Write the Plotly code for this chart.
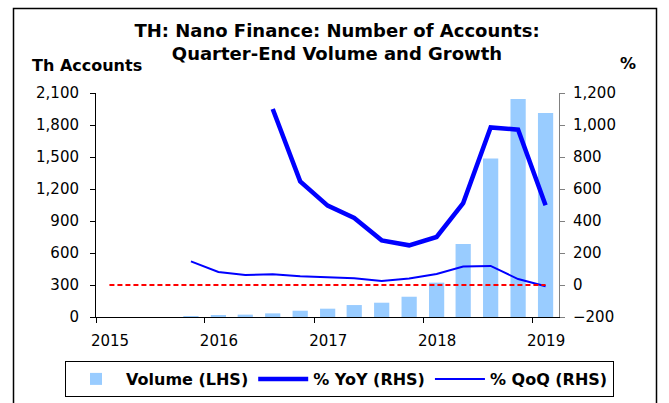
import plotly.graph_objects as go

dates = ["2015-11-15", "2016-02-15", "2016-05-15", "2016-08-15", "2016-11-15",
         "2017-02-15", "2017-05-15", "2017-08-15", "2017-11-15", "2018-02-15",
         "2018-05-15", "2018-08-15", "2018-11-15", "2019-02-15"]
volume = [3, 12, 22, 34, 59, 78, 112, 134, 190, 322, 684, 1486, 2044, 1912]
yoy = [None, None, None, 1100, 648, 496, 419, 279, 248, 300, 512, 985, 971, 498]
qoq = [148, 81, 62, 67, 54, 46, 42, 25, 40, 69, 115, 119, 37, -8]
zero_dates = ["2015-02-15", "2019-02-15"]
zero_vals = [0, 0]
year_ticks = ["2015-01-01", "2016-01-01", "2017-01-01", "2018-01-01", "2019-01-01"]
year_labels = ["2015", "2016", "2017", "2018", "2019"]

FONT = "DejaVu Sans, Liberation Sans, Arial, sans-serif"

# plot area in pixels
L, R, T, B = 96, 559, 93, 317
W, H = 669, 403


def px(xp):
    return (xp - L) / (R - L)


def py(yp):
    return (B - yp) / (B - T)


fig = go.Figure()
fig.add_trace(go.Bar(x=dates, y=volume, name="Volume (LHS)",
                     marker=dict(color="#99CCFF", line=dict(width=0)),
                     width=51 * 86400000, yaxis="y"))
fig.add_trace(go.Scatter(x=dates, y=yoy, name="% YoY (RHS)", mode="lines",
                         line=dict(color="#0000FF", width=4.5), yaxis="y2"))
fig.add_trace(go.Scatter(x=dates, y=qoq, name="% QoQ (RHS)", mode="lines",
                         line=dict(color="#0000FF", width=2), yaxis="y2"))
fig.add_trace(go.Scatter(x=zero_dates, y=zero_vals, mode="lines", showlegend=False,
                         line=dict(color="#FF0000", width=1.8, dash="5px,3px"), yaxis="y2"))

fig.update_layout(
    width=W, height=H,
    margin=dict(l=L, r=W - R, t=T, b=H - B, autoexpand=False),
    paper_bgcolor="white", plot_bgcolor="white",
    font=dict(family=FONT, size=15, color="black"),
    showlegend=True,
    title=dict(text="<b>TH: Nano Finance: Number of Accounts:<br>Quarter-End Volume and Growth</b>",
               x=337 / W, xanchor="center", xref="container",
               y=1 - 36.5 / H, yanchor="top", yref="container",
               font=dict(size=18, family=FONT, color="black")),
    xaxis=dict(type="date", range=["2015-01-01", "2019-04-01"],
               tickvals=year_ticks, ticktext=year_labels,
               ticks="outside", ticklen=5, tickcolor="black",
               ticklabelshift=14, ticklabelstandoff=5,
               showline=True, linecolor="black", linewidth=1,
               showgrid=False, zeroline=False,
               tickfont=dict(size=15, family=FONT)),
    yaxis=dict(range=[0, 2100], dtick=300, tickformat=",",
               ticks="outside", ticklen=5, tickcolor="black",
               ticklabelstandoff=8,
               showline=True, linecolor="black", linewidth=1,
               showgrid=False, zeroline=False, tickfont=dict(size=15, family=FONT)),
    yaxis2=dict(range=[-200, 1200], dtick=200, tickformat=",",
                overlaying="y", side="right", anchor="x",
                ticks="outside", ticklen=5, tickcolor="#808080",
                ticklabelstandoff=5,
                showline=True, linecolor="#808080", linewidth=1,
                showgrid=False, zeroline=False, tickfont=dict(size=15, family=FONT)),
    legend=dict(orientation="h", x=px(65), y=py(361), xanchor="left", yanchor="top",
                bordercolor="black", borderwidth=1, bgcolor="white",
                font=dict(size=16, family=FONT, weight="bold"), itemwidth=50,
                traceorder="normal"),
)

fig.add_annotation(text="<b>Th Accounts</b>", xref="paper", yref="paper",
                   x=px(30), y=py(65), xanchor="left", yanchor="middle",
                   showarrow=False, font=dict(size=16, family=FONT))
fig.add_annotation(text="<b>%</b>", xref="paper", yref="paper",
                   x=px(628), y=py(64), xanchor="center", yanchor="middle",
                   showarrow=False, font=dict(size=16, family=FONT))

fig.add_shape(type="rect", xref="paper", yref="paper",
              x0=px(13.5), x1=px(656.5), y0=py(420), y1=py(8.5),
              line=dict(color="black", width=1.5), fillcolor="rgba(0,0,0,0)", layer="below")

fig.write_html("out.html", config={"displayModeBar": False},
               post_script="document.body.style.margin='0px';")
